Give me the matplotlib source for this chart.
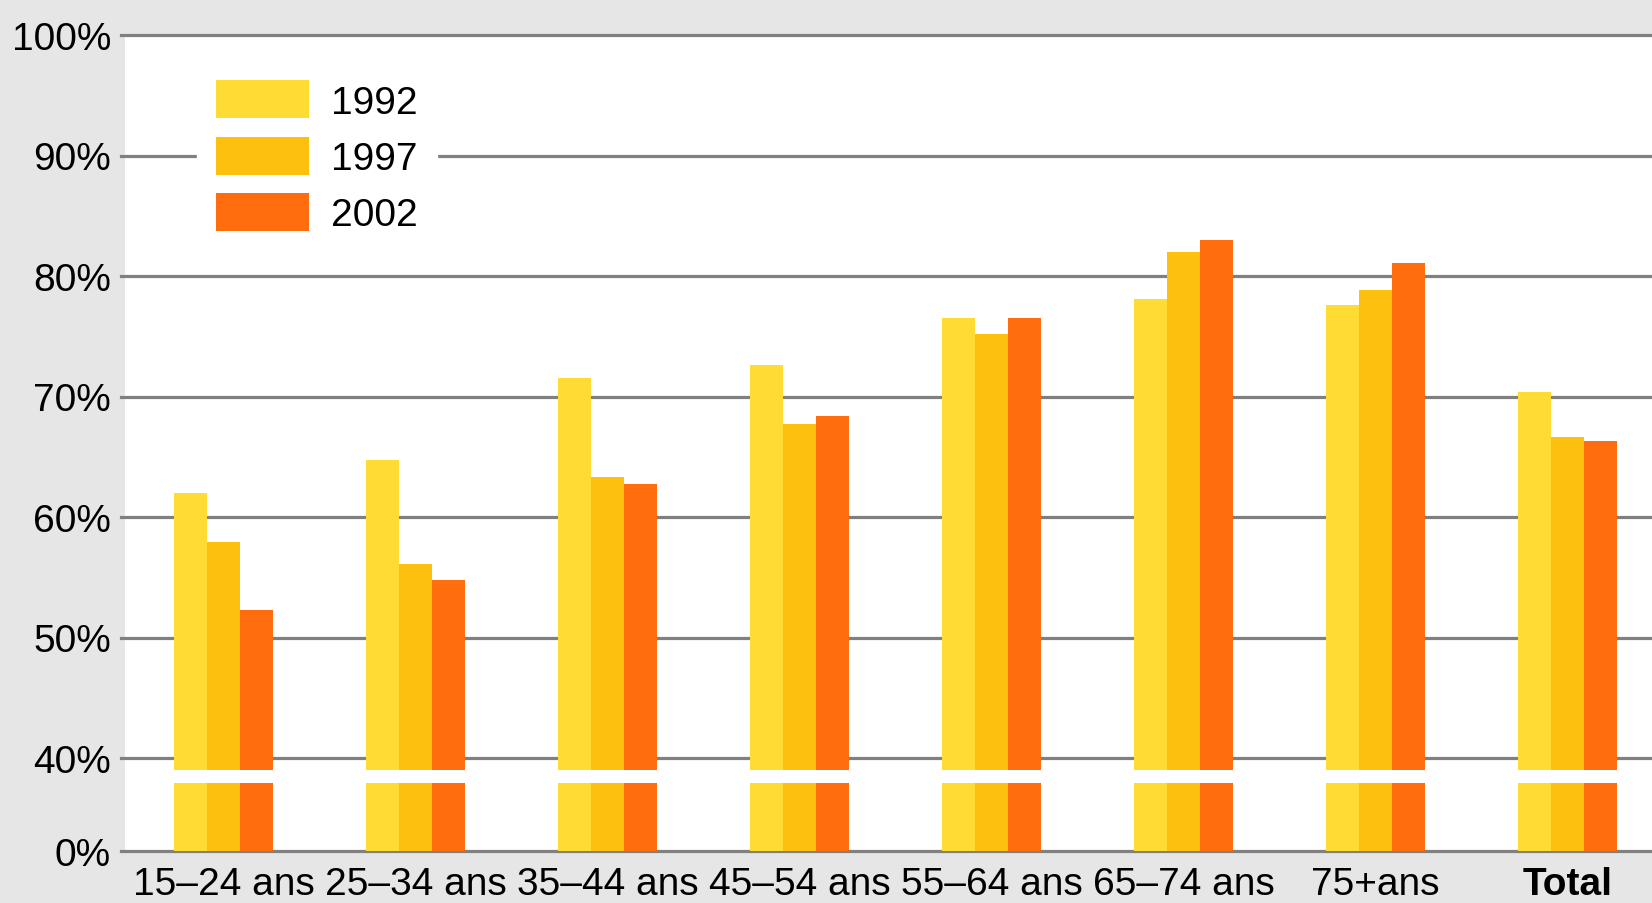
import numpy as np
import matplotlib
matplotlib.use('Agg')
from matplotlib import pyplot as plt

# données (en %)
categories = ['15–24 ans', '25–34 ans', '35–44 ans', '45–54 ans',
              '55–64 ans', '65–74 ans', '75+ans', 'Total']
annees = ['1992', '1997', '2002']
v1992 = [62.0, 64.7, 71.5, 72.6, 76.5, 78.1, 77.6, 70.4]
v1997 = [57.9, 56.1, 63.3, 67.7, 75.2, 82.0, 78.8, 66.6]
v2002 = [52.3, 54.8, 62.7, 68.4, 76.5, 83.0, 81.1, 66.3]
ticks = [0, 40, 50, 60, 70, 80, 90, 100]

couleurs = ['#FFDC33', '#FEC00F', '#FF6D0E']
gris = '#808080'
fond = '#E6E6E6'

plt.rcParams['font.family'] = ['Liberation Sans', 'DejaVu Sans']

#axe coupé : 0-40 % écrasé, au-dessus de 40 % linéaire
def forward(v):
    v = np.asarray(v, dtype=float)
    return np.where(v <= 40, v * 93.0 / 40.0, 93.0 + (v - 40.0) * 12.05)

def inverse(p):
    p = np.asarray(p, dtype=float)
    return np.where(p <= 93.0, p * 40.0 / 93.0, 40.0 + (p - 93.0) / 12.05)

W, H = 1652, 904
fig = plt.figure(figsize=(W / 100, H / 100), dpi=100)
fig.patch.set_facecolor(fond)
ax = fig.add_axes([125 / W, (H - 852) / H, (W - 125) / W, (852 - 36) / H])
ax.set_facecolor('white')
ax.set_yscale('function', functions=(forward, inverse))
ax.set_ylim(0, 100)

x = np.arange(len(categories))
bw = 33 / 192
series = [v1992, v1997, v2002]
for i, (vals, c, lab) in enumerate(zip(series, couleurs, annees)):
    ax.bar(x + (i - 1) * bw, vals, width=bw, color=c, label=lab,
           zorder=2, linewidth=0)

# bande blanche de la coupure
ax.axhspan(29.2, 34.8, color='white', zorder=3, linewidth=0)

# lignes de grille (débordent un peu à gauche)
for t in ticks:
    ax.axhline(t, xmin=-4 / 1527, xmax=1, color=gris, lw=2.3,
               zorder=1, clip_on=False)

ax.set_xlim(-0.513, len(categories) - 1 + 0.44)
ax.set_xticks(x)
ax.set_xticklabels(categories, fontsize=28)
ax.get_xticklabels()[-1].set_fontweight('bold')
ax.tick_params(axis='x', length=0, pad=11)
ax.set_yticks(ticks)
ax.set_yticklabels([f'{t}%' for t in ticks], fontsize=28)
ax.tick_params(axis='y', length=0, pad=10)
ax.minorticks_off()
for s in ax.spines.values():
    s.set_visible(False)

leg = ax.legend(loc='upper left', bbox_to_anchor=(197 / W, (H - 62) / H),
                bbox_transform=fig.transFigure, borderaxespad=0,
                fontsize=28, frameon=True, fancybox=False, framealpha=1,
                edgecolor='white', facecolor='white',
                handlelength=2.39, handleheight=1.12, handletextpad=0.55,
                labelspacing=0.42, borderpad=0.5)
leg.set_zorder(5)

plt.savefig('out.png', dpi=100, facecolor=fond)
